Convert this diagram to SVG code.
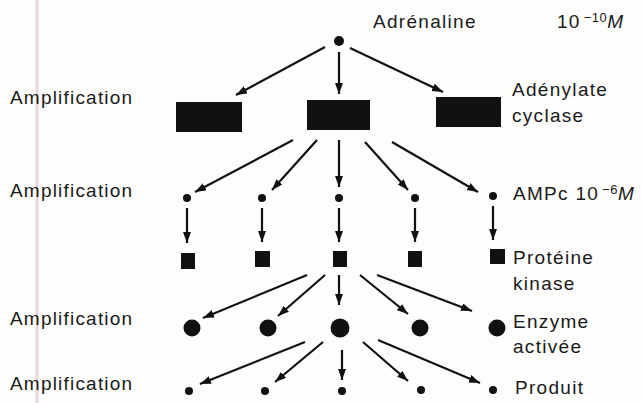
<svg xmlns="http://www.w3.org/2000/svg" width="642" height="403" viewBox="0 0 642 403">
<style>
text{font-family:"Liberation Sans",Arial,sans-serif;font-size:19px;fill:#1a1a1a;letter-spacing:1.3px}
.amp{letter-spacing:1.2px}
.sup{font-size:13px;letter-spacing:0.5px}
.it{font-style:italic}
.c line{stroke:#111;stroke-width:2.2;marker-end:url(#ah)}
.n{fill:#111}
</style>
<defs>
<marker id="ah" markerUnits="userSpaceOnUse" markerWidth="12" markerHeight="9" refX="11" refY="4" orient="auto">
<path d="M0,0 L11,4 L0,8 z" fill="#111"/>
</marker>
</defs>
<rect width="642" height="403" fill="#fdfdfc"/>
<line x1="37" y1="0" x2="37" y2="403" stroke="#e6d6dc" stroke-width="3"/>
<g id="labels">
<text class="amp" x="10" y="104">Amplification</text>
<text class="amp" x="10" y="197">Amplification</text>
<text class="amp" x="10" y="325">Amplification</text>
<text class="amp" x="10" y="390">Amplification</text>
</g>
<g id="adrenaline">
<circle class="n" cx="339" cy="41" r="5"/>
<text x="373" y="28">Adrénaline</text>
<text x="557" y="28">10<tspan class="sup" dx="3" dy="-6">−10</tspan><tspan class="it" dy="6">M</tspan></text>
</g>
<g id="cyclase">
<rect class="n" x="176" y="102" width="66" height="30"/>
<rect class="n" x="307" y="100" width="63" height="30"/>
<rect class="n" x="436" y="97" width="65" height="30"/>
<text x="512" y="96">Adénylate</text>
<text x="512" y="122">cyclase</text>
</g>
<g id="ampc">
<circle class="n" cx="187" cy="198" r="4"/>
<circle class="n" cx="262" cy="198" r="4"/>
<circle class="n" cx="339" cy="198" r="4"/>
<circle class="n" cx="415" cy="198" r="4"/>
<circle class="n" cx="493" cy="196" r="4"/>
<text x="513" y="200">AMPc 10<tspan class="sup" dx="3" dy="-6">−6</tspan><tspan class="it" dy="6">M</tspan></text>
</g>
<g id="kinase">
<rect class="n" x="181" y="253" width="14" height="16"/>
<rect class="n" x="255" y="251" width="15" height="16"/>
<rect class="n" x="333" y="251" width="14" height="16"/>
<rect class="n" x="408" y="251" width="14" height="16"/>
<rect class="n" x="490" y="249" width="15" height="15"/>
<text x="513" y="264">Protéine</text>
<text x="513" y="290">kinase</text>
</g>
<g id="enzyme">
<circle class="n" cx="192" cy="328" r="8.5"/>
<circle class="n" cx="268" cy="328" r="8.5"/>
<circle class="n" cx="340" cy="328" r="9.5"/>
<circle class="n" cx="420" cy="328" r="8.5"/>
<circle class="n" cx="497" cy="328" r="8.5"/>
<text x="513" y="328">Enzyme</text>
<text x="513" y="353">activée</text>
</g>
<g id="produit">
<circle class="n" cx="189" cy="391" r="4"/>
<circle class="n" cx="265" cy="391" r="4"/>
<circle class="n" cx="342" cy="391" r="4"/>
<circle class="n" cx="421" cy="390" r="4"/>
<circle class="n" cx="493" cy="390" r="4"/>
<text x="515" y="394">Produit</text>
</g>
<g id="connectors" class="c">
<line x1="325" y1="47" x2="236" y2="95"/>
<line x1="339" y1="52" x2="339" y2="94"/>
<line x1="350" y1="48" x2="443" y2="92"/>
<line x1="293" y1="140" x2="195" y2="192"/>
<line x1="317" y1="140" x2="272" y2="190"/>
<line x1="339" y1="140" x2="339" y2="187"/>
<line x1="365" y1="142" x2="408" y2="190"/>
<line x1="392" y1="142" x2="478" y2="192"/>
<line x1="187" y1="208" x2="187" y2="243"/>
<line x1="262" y1="208" x2="262" y2="242"/>
<line x1="339" y1="208" x2="339" y2="242"/>
<line x1="415" y1="208" x2="415" y2="242"/>
<line x1="493" y1="206" x2="493" y2="240"/>
<line x1="307" y1="275" x2="203" y2="318"/>
<line x1="325" y1="275" x2="278" y2="316"/>
<line x1="339" y1="275" x2="339" y2="305"/>
<line x1="360" y1="275" x2="408" y2="314"/>
<line x1="377" y1="275" x2="472" y2="311"/>
<line x1="305" y1="342" x2="200" y2="384"/>
<line x1="323" y1="342" x2="275" y2="382"/>
<line x1="342" y1="350" x2="342" y2="380"/>
<line x1="363" y1="342" x2="408" y2="381"/>
<line x1="378" y1="340" x2="480" y2="383"/>
</g>
</svg>
